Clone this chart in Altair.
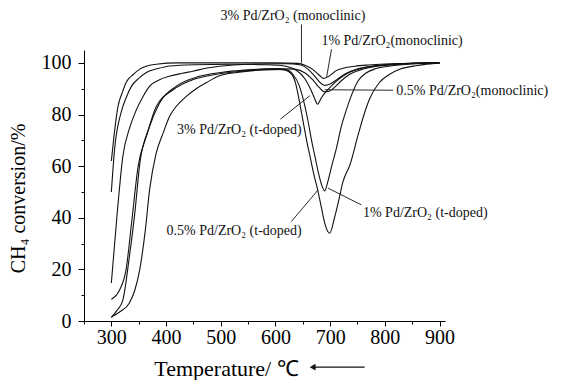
import altair as alt
import pandas as pd

# ---- axis tick values ----
x_major = [300, 400, 500, 600, 700, 800, 900]
x_minor = [250, 350, 450, 550, 650, 750, 850]
y_major = [0, 20, 40, 60, 80, 100]
y_minor = [10, 30, 50, 70, 90]

# ---- series (temperature / CH4 conversion) ----
t_3m = [300, 305, 312, 320, 327, 340, 352, 365, 382, 420, 500, 600, 640, 655, 668, 680, 688, 698, 711, 725, 745, 770, 800, 850, 900]
v_3m = [62, 72, 83, 88.5, 92.4, 95.5, 97.6, 98.8, 99.5, 100, 100, 100, 99.8, 99, 97.5, 95.3, 94, 94.8, 97, 98, 98.7, 99.2, 99.6, 99.9, 100]

t_3t = [300, 306, 318, 327, 337, 350, 364, 385, 407, 450, 520, 580, 610, 630, 645, 655, 665, 672, 677, 684, 692, 702, 715, 730, 750, 775, 810, 850, 900]
v_3t = [50, 66.7, 80.9, 86.5, 91, 94, 96.3, 97.8, 98.8, 99.3, 99.5, 99.3, 99, 98, 96, 93.5, 89.5, 86, 84, 86.5, 88.8, 91, 93.5, 95.8, 97.5, 98.6, 99.4, 99.8, 100]

t_1m = [300, 310, 321, 333, 346, 358, 370, 388, 407, 430, 449, 475, 498, 550, 620, 645, 660, 672, 682, 690, 700, 712, 728, 748, 775, 810, 850, 900]
v_1m = [14.7, 40, 63.8, 74.5, 82, 87, 91, 93.5, 94.9, 96, 96.8, 98, 98.7, 99.5, 99.7, 99.3, 97.5, 94.8, 92.3, 91.3, 91.8, 93.5, 95.8, 97.5, 98.7, 99.4, 99.8, 100]

t_1t = [300, 315, 327, 337, 349, 364, 382, 413, 449, 490, 540, 590, 620, 632, 643, 653, 660, 666, 672, 679, 684, 690, 697, 704, 711, 720, 730, 740, 751, 765, 784, 810, 850, 900]
v_1t = [8.4, 12, 20, 38, 60, 71.5, 83, 89.6, 93.5, 95.5, 96.8, 97.6, 97.3, 95.5, 91.5, 84, 77, 70, 64, 57, 53, 50.4, 55, 61, 66.5, 75, 82, 88, 93, 96, 97.8, 98.8, 99.6, 100]

t_05m = [300, 310, 321, 333, 343, 352, 370, 388, 419, 461, 500, 550, 600, 635, 655, 668, 680, 690, 698, 708, 720, 735, 755, 780, 820, 860, 900]
v_05m = [1.4, 4, 8.1, 25, 42, 61, 75.4, 84.4, 91, 94.8, 96.3, 97.3, 97.8, 97.6, 96, 93.5, 90.5, 88.8, 89, 90.5, 93, 95.5, 97.3, 98.5, 99.4, 99.8, 100]

t_05t = [300, 315, 333, 343, 352, 362, 370, 382, 395, 407, 420, 437, 455, 474, 498, 530, 580, 612, 628, 637, 643, 650, 657, 664, 670, 677, 684, 690, 699, 708, 716, 723, 737, 751, 762, 772, 790, 808, 827, 860, 900]
v_05t = [1.5, 3.5, 7, 12, 20, 35, 51, 65, 73, 79.5, 83.5, 87, 90, 92.4, 95, 96.3, 97.3, 97.5, 96, 92, 86, 78, 70, 63, 57, 51, 44, 38, 34, 40, 47, 53.6, 61, 72, 80, 86, 92.4, 95.5, 97.5, 99, 100]

series_names = ["3% mono", "3% t", "1% mono", "1% t", "0.5% mono", "0.5% t"]
series_t = [t_3m, t_3t, t_1m, t_1t, t_05m, t_05t]
series_v = [v_3m, v_3t, v_1m, v_1t, v_05m, v_05t]

# ---- annotations ----
lab_text = ["3% Pd/ZrO₂ (monoclinic)", "1% Pd/ZrO₂(monoclinic)", "0.5% Pd/ZrO₂(monoclinic)",
            "3% Pd/ZrO₂ (t-doped)", "0.5% Pd/ZrO₂ (t-doped)", "1% Pd/ZrO₂ (t-doped)"]
lab_T = [632, 684, 821, 648, 648, 760]
lab_v = [118, 108.4, 89, 74, 34.7, 41.8]
lab_align = ["center", "left", "left", "right", "right", "left"]

lead_T1 = [647.6, 702.5, 690, 609, 629, 757]
lead_v1 = [114.9, 105.3, 89.6, 78.2, 38.5, 45]
lead_T2 = [647.6, 693.3, 815, 663, 678, 696]
lead_v2 = [100, 94.2, 89.4, 87.3, 50.8, 51.5]

arrow_T = [668, 763]
arrow_v = [-17.9, -17.9]

rows = []
for name, ts, vs in zip(series_names, series_t, series_v):
    for i, (t, v) in enumerate(zip(ts, vs)):
        rows.append({"series": name, "idx": i, "T": t, "v": v})
df = pd.DataFrame(rows)

lab_df = pd.DataFrame({"label": lab_text, "T": lab_T, "v": lab_v, "align": lab_align})
lead_df = pd.DataFrame({"T1": lead_T1, "v1": lead_v1, "T2": lead_T2, "v2": lead_v2})
arr_df = pd.DataFrame({"T1": [arrow_T[0]], "T2": [arrow_T[1]], "v": [arrow_v[0]]})

FONT = "Liberation Serif"
INK = "#111111"

xs = alt.Scale(domain=[250, 910], nice=False, zero=False)
ys = alt.Scale(domain=[0, 105], nice=False, zero=False)

lines = alt.Chart(df).mark_line(interpolate="monotone", color=INK, strokeWidth=1.1).encode(
    x=alt.X("T:Q", scale=xs, axis=alt.Axis(
        values=x_major, title="Temperature/ ℃", grid=False, tickSize=5, labelPadding=1,
        labelFont=FONT, labelFontSize=20, labelColor="black",
        titleFont=FONT, titleX=142, titleY=47, titleBaseline="middle", titleAlign="center",
        titleFontSize=22, orient="bottom")),
    y=alt.Y("v:Q", scale=ys, axis=alt.Axis(
        values=y_major, title="CH₄ conversion/%", grid=False, tickSize=6, labelPadding=7,
        labelFont=FONT, labelFontSize=20, labelColor="black",
        titleFont=FONT, titleX=-66, titleY=148, titleBaseline="middle", titleAlign="center",
        titleAngle=270, orient="left")),
    detail="series:N",
    order="idx:Q",
)

leaders = alt.Chart(lead_df).mark_rule(color=INK, strokeWidth=0.9).encode(
    x=alt.X("T1:Q", scale=xs, axis=alt.Axis(values=x_minor, labels=False, domain=False, tickSize=3,
                                            title=None, grid=False, orient="bottom")),
    y=alt.Y("v1:Q", scale=ys, axis=alt.Axis(values=y_minor, labels=False, domain=False, tickSize=3,
                                            title=None, grid=False, orient="left")),
    x2="T2:Q",
    y2="v2:Q",
)

def text_layer(al):
    return alt.Chart(lab_df).transform_filter(alt.datum.align == al).mark_text(
        align=al, baseline="middle", font=FONT, fontSize=14, color=INK
    ).encode(
        x=alt.X("T:Q", scale=xs, axis=None),
        y=alt.Y("v:Q", scale=ys, axis=None),
        text="label:N",
    )

arrow_line = alt.Chart(arr_df).mark_rule(color=INK, strokeWidth=1.3).encode(
    x=alt.X("T1:Q", scale=xs, axis=None), x2="T2:Q",
    y=alt.Y("v:Q", scale=ys, axis=None),
)
arrow_head = alt.Chart(arr_df).mark_point(shape="triangle-left", filled=True, color=INK, size=45, opacity=1).encode(
    x=alt.X("T1:Q", scale=xs, axis=None),
    y=alt.Y("v:Q", scale=ys, axis=None),
)

chart = alt.layer(
    lines, leaders, text_layer("center"), text_layer("left"), text_layer("right"), arrow_line, arrow_head
).resolve_axis(x="independent", y="independent").properties(
    width=361, height=271,
    autosize=alt.AutoSizeParams(type="none"),
    padding={"left": 76, "top": 42, "right": 112, "bottom": 64},
).configure_view(stroke=None).configure_axis(
    labelFont=FONT, labelFontSize=20, labelColor="black",
    titleFont=FONT, titleFontSize=20, titleColor="black", titleFontWeight="normal",
    tickColor="black", domainColor="black", domainWidth=1, tickWidth=1,
)

chart.save("out.html", embed_options={"renderer": "svg", "actions": False})
